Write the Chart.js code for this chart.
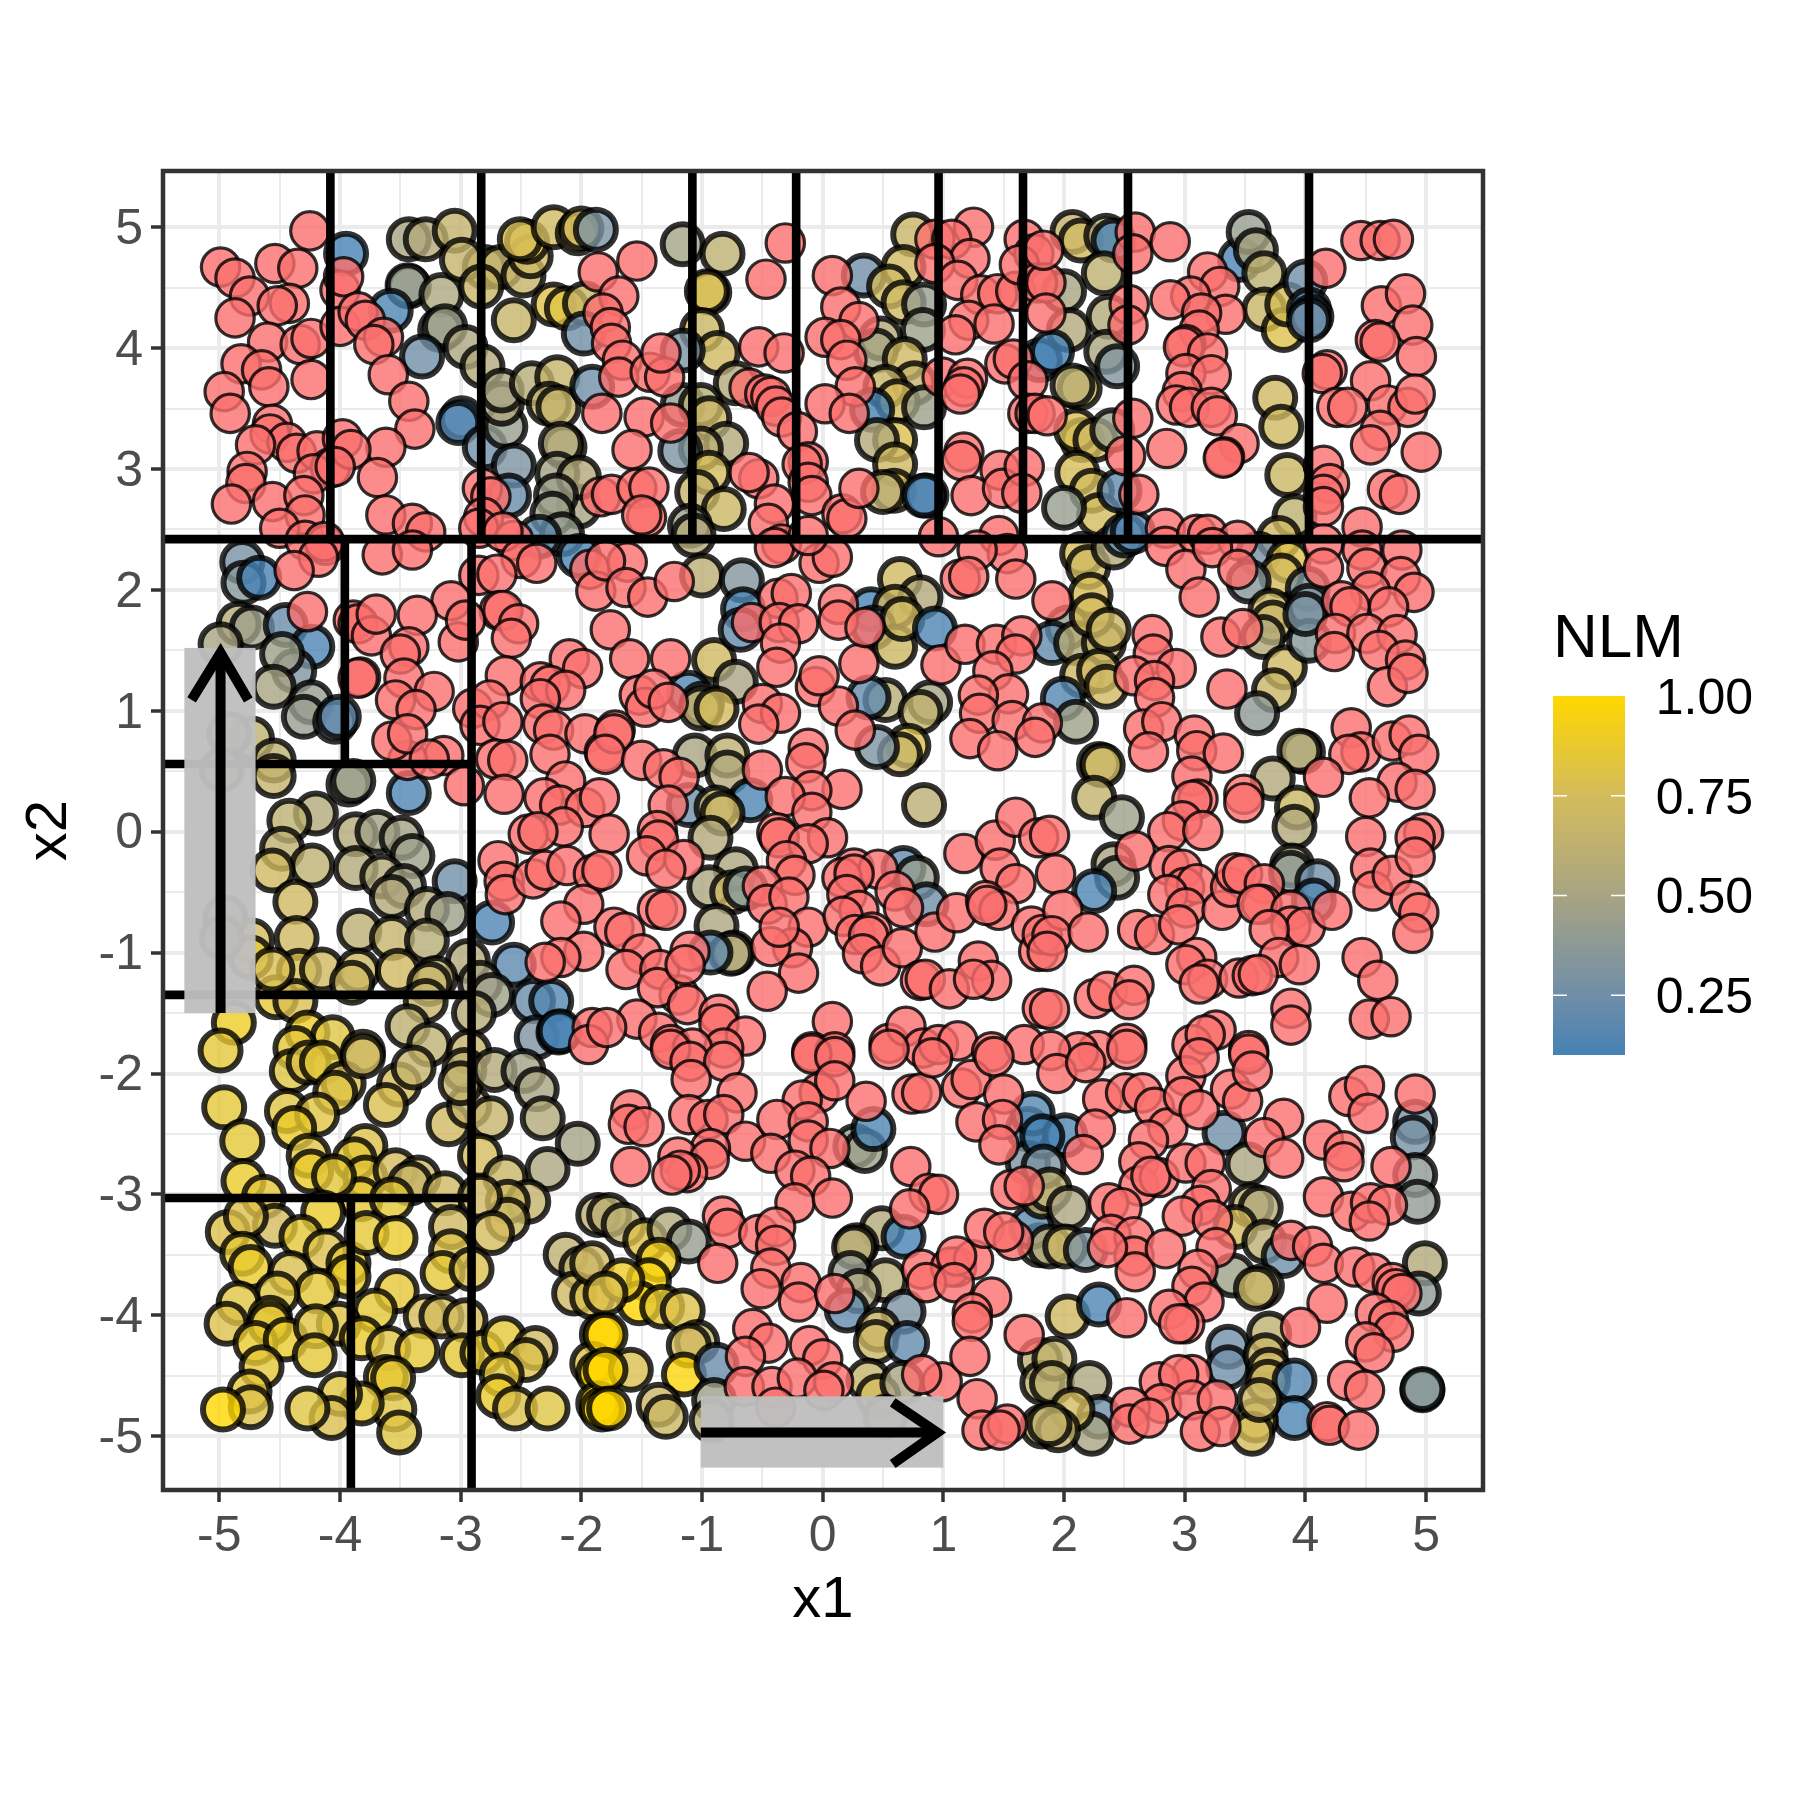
<!DOCTYPE html>
<html>
<head>
<meta charset="utf-8">
<title>NLM</title>
<script src="https://cdn.jsdelivr.net/npm/chart.js@4/dist/chart.umd.min.js"></script>
<style>
  html, body { margin: 0; padding: 0; background: #fff; }
  canvas { display: block; }
</style>
</head>
<body>
<canvas id="chart" width="1800" height="1800"></canvas>
<script>
// points without an NLM value, [x1, x2]
const naPoints = [
[-4.25,4.97],[-4.99,4.67],[-4.87,4.58],[-4.54,4.70],[-4.35,4.66],[-4.75,4.43],[-4.42,4.37],[-4.52,4.35],[-4.87,4.25],[-4.60,4.05],
[-4.33,4.03],[-4.24,4.08],[-4.82,3.87],[-4.65,3.82],[-4.59,3.68],[-4.96,3.64],[-4.24,3.74],[-4.91,3.46],[-4.56,3.37],[-4.58,3.29],
[-4.44,3.22],[-4.70,3.20],[-4.36,3.13],[-4.19,3.15],[-4.08,3.01],[-4.22,2.96],[-4.77,2.98],[-4.78,2.88],[-4.90,2.71],[-4.56,2.73],
[-4.30,2.78],[-4.29,2.62],[-4.50,2.51],[-4.29,2.41],[-4.12,2.37],[-4.13,2.40],[-4.18,2.27],[-4.38,2.16],[-4.00,4.48],[-4.00,4.18],
[-3.97,4.59],[-3.85,4.30],[-3.79,4.23],[-3.64,4.09],[-3.72,4.03],[-3.60,3.78],[-3.43,3.56],[-3.38,3.33],[-3.62,3.18],[-3.98,3.25],
[-3.91,3.16],[-4.04,3.02],[-3.69,2.93],[-3.62,2.62],[-3.40,2.55],[-3.29,2.48],[-3.65,2.29],[-3.40,2.33],[-2.82,2.84],[-2.75,2.77],
[-2.81,2.60],[-2.85,2.51],[-2.56,2.41],[-2.65,2.48],[-2.50,2.26],[-2.37,2.22],[-2.85,2.12],[-2.70,2.13],[-1.86,4.63],[-1.84,2.77],
[-1.93,2.17],[-1.88,1.99],[-2.68,1.83],[-3.08,1.91],
[-1.54,4.72],[-1.69,4.43],[-1.82,4.29],[-1.76,4.17],[-1.75,4.04],[-1.66,3.90],[-1.69,3.76],[-1.43,3.80],[-1.31,3.76],[-1.34,3.96],
[-1.83,3.46],[-1.48,3.43],[-1.26,3.38],[-1.58,3.16],[-1.75,2.79],[-1.54,2.84],[-1.44,2.85],[-1.46,2.60],[-1.50,2.62],[-0.31,4.87],
[-0.47,4.57],[-0.53,4.01],[-0.32,3.96],[-0.61,3.67],[-0.48,3.62],[-0.43,3.60],[-0.39,3.52],[-0.34,3.43],[-0.21,3.31],[-0.53,2.92],
[-0.61,2.97],[-0.40,2.71],[-0.45,2.55],[-0.34,2.38],[-0.40,2.35],[-0.12,3.06],[-0.17,3.04],[-0.12,2.89],[-0.09,2.78],[-0.03,2.22],
[0.08,2.27],[-0.12,2.45],[0.16,2.63],[0.20,2.59],[0.08,4.60],[0.15,4.34],[0.30,4.22],[0.02,4.09],[0.15,4.07],[0.20,3.90],
[0.27,3.68],[0.02,3.54],[0.22,3.46],[0.30,2.84],[0.93,4.90],[1.25,5.00],[1.07,4.90],[1.22,4.74],[0.93,4.70],[1.12,4.56],
[1.31,4.44],[1.45,4.45],[1.60,4.47],[1.21,4.23],[1.42,4.20],[1.10,4.11],[0.99,3.76],[1.20,3.75],[1.17,3.68],[1.14,3.62],
[1.51,3.87],[1.58,3.91],[1.67,4.90],[1.75,4.78],[1.63,4.69],[1.78,4.54],[1.70,3.73],[1.70,3.46],[1.76,3.46],[1.17,3.14],
[1.15,3.07],[1.47,2.99],[1.23,2.78],[1.49,2.84],[1.67,3.02],[1.65,2.80],[1.46,2.45],[0.96,2.44],[1.53,2.30],[1.28,2.33],
[1.14,2.09],[1.21,2.11],[1.60,2.09],[-1.62,2.23],[-1.80,2.24],[-1.63,2.02],[-1.45,1.94],[-1.23,2.07],[-0.37,1.93],[-0.26,1.97],[0.13,1.88],
[2.59,4.96],[2.57,4.78],[2.88,4.88],[3.19,4.63],[3.29,4.51],[3.05,4.43],[2.88,4.40],[3.34,4.28],[3.14,4.29],[2.54,4.36],
[2.53,4.19],[3.12,4.15],[3.01,4.03],[2.99,4.01],[3.19,3.96],[3.01,3.79],[3.22,3.78],[2.98,3.64],[2.93,3.53],[3.04,3.51],
[3.22,3.51],[3.27,3.44],[2.57,3.42],[2.51,3.11],[2.85,3.17],[3.45,3.21],[3.33,3.10],[3.32,3.09],[2.62,2.79],[2.84,2.51],
[2.84,2.36],[3.10,2.46],[3.19,2.46],[3.44,2.41],[3.01,2.17],[3.23,2.35],[3.44,2.17],[3.12,1.94],[4.17,4.66],[4.46,4.89],
[4.62,4.89],[4.73,4.90],[4.63,4.35],[4.83,4.45],[4.89,4.19],[4.58,4.07],[4.62,4.05],[4.92,3.93],[4.18,3.82],[4.14,3.79],
[4.54,3.73],[4.26,3.51],[4.35,3.51],[4.68,3.53],[4.85,3.51],[4.91,3.62],[4.62,3.32],[4.54,3.20],[4.96,3.14],[4.15,3.03],
[4.20,2.88],[4.15,2.79],[4.15,2.69],[4.68,2.83],[4.78,2.79],[4.47,2.52],[4.15,2.38],[4.47,2.33],[4.80,2.33],[4.15,2.18],
[4.51,2.18],[4.79,2.11],[4.54,1.99],[4.90,1.98],[4.30,1.91],[4.37,1.86],[4.69,1.86],[1.90,1.91],[1.86,3.44],[1.85,4.54],[1.85,4.29],[1.83,4.81],
[-4.27,1.82],[-3.89,1.75],[-3.85,1.72],[-3.74,1.62],[-3.70,1.80],[-3.36,1.79],[-3.43,1.53],[-3.50,1.47],[-3.02,1.57],[-2.96,1.75],
[-2.65,1.83],[-2.52,1.72],[-2.58,1.60],[-2.63,1.29],[-2.10,1.43],[-1.99,1.35],[-3.47,1.27],[-3.83,1.28],[-3.85,1.27],[-3.22,1.16],
[-3.54,1.09],[-3.37,1.01],[-2.90,1.02],[-2.76,1.09],[-2.84,0.88],[-2.65,0.91],[-2.34,1.24],[-2.26,1.21],[-2.13,1.17],[-2.34,1.10],
[-2.32,0.89],[-2.23,0.84],[-1.97,0.81],[-2.26,0.64],[-1.81,0.66],[-2.71,0.60],[-2.61,0.59],[-3.14,0.63],[-3.44,0.59],[-3.57,0.75],
[-3.44,0.81],[-3.26,0.60],[-2.97,0.38],[-2.64,0.31],[-2.13,0.42],[-2.31,0.28],[-2.18,0.22],[-1.97,0.20],[-1.85,0.28],[-2.15,0.04],
[-2.44,-0.02],[-2.36,0.00],[-2.69,-0.24],[-2.64,-0.41],[-2.63,-0.52],[-2.40,-0.39],[-2.30,-0.32],[-2.12,-0.28],[-1.90,-0.35],[-1.98,-0.60],
[-2.17,-0.74],[-1.98,-0.99],[-2.17,-1.04],[-2.30,-1.08],[-1.91,-1.62],[-1.94,-1.76],
[-1.76,1.67],[-1.60,1.43],[-1.26,1.43],[-1.52,1.13],[-1.47,1.03],[-1.40,1.18],[-1.28,1.07],[-1.72,0.84],[-1.73,0.81],[-1.80,0.64],
[-1.50,0.59],[-1.32,0.52],[-1.19,0.45],[-1.28,0.22],[-1.37,0.01],[-1.36,-0.07],[-1.46,-0.20],[-1.15,-0.23],[-1.30,-0.31],[-1.77,-0.02],
[-1.83,-0.32],[-1.37,-0.64],[-1.30,-0.65],[-1.73,-0.79],[-1.64,-0.83],[-1.50,-1.01],[-1.63,-1.14],[-1.35,-1.14],[-1.19,-1.35],[-1.37,-1.29],
[-1.10,-0.99],[-1.14,-1.10],[-1.12,-1.43],[-1.54,-1.55],[-1.36,-1.66],[-1.26,-1.76],[-1.79,-1.62],[-0.86,-1.51],[-0.86,-1.59],[-0.64,-1.69],
[-0.82,-1.79],[-1.08,-1.79],[-0.59,1.73],[-0.36,1.73],[-0.20,1.72],[-0.35,1.56],[-0.38,1.36],[-0.50,1.06],[-0.35,0.98],[-0.53,0.89],
[-0.06,1.20],[0.13,1.04],[0.30,1.39],[0.27,0.84],[-0.03,1.29],[0.13,1.75],[0.35,1.69],[0.98,1.38],[1.18,1.55],[1.44,1.55],
[1.65,1.62],[1.60,1.47],[1.41,1.33],[1.54,1.14],[1.29,1.13],[1.30,0.98],[1.57,0.92],[1.22,0.77],[1.45,0.67],[1.82,0.90],[1.76,0.78],
[-0.12,0.69],[-0.14,0.57],[-0.50,0.51],[0.16,0.35],[-0.09,0.34],[-0.31,0.29],[-0.09,0.16],[0.04,-0.05],[-0.38,-0.01],[-0.36,-0.05],
[-0.12,-0.10],[-0.30,-0.24],[-0.23,-0.36],[-0.50,-0.45],[-0.46,-0.60],[-0.28,-0.54],[-0.12,-0.79],[-0.25,-0.96],[-0.43,-0.95],[-0.20,-1.17],
[-0.46,-1.32],[-0.36,-0.79],[0.26,-0.30],[0.46,-0.31],[0.16,-0.38],[0.26,-0.35],[0.20,-0.52],[0.60,-0.49],[0.67,-0.63],[0.30,-0.65],
[0.17,-0.70],[0.27,-0.85],[0.41,-0.83],[0.38,-0.86],[0.33,-1.01],[0.48,-1.11],[0.66,-0.96],[0.81,-1.23],[0.85,-1.22],[1.05,-1.30],
[0.93,-0.83],[1.11,-0.67],[1.17,-0.18],[1.43,-0.07],[1.60,0.12],[1.47,-0.30],[1.60,-0.43],[1.35,-0.57],[1.46,-0.65],[1.36,-0.61],
[1.73,-0.78],[1.79,-0.05],[1.79,-0.99],[1.82,-0.85],[1.29,-1.07],[1.40,-1.23],[1.25,-1.22],[0.08,-1.57],[-0.09,-1.82],[0.10,-1.82],
[0.55,-1.75],[0.69,-1.61],[0.83,-1.79],[0.96,-1.76],[1.12,-1.73],[1.40,-1.82],[1.67,-1.76],[1.82,-1.46],
[2.73,1.63],[2.74,1.47],[2.93,1.35],[2.58,1.29],[2.75,1.25],[2.75,1.11],[2.66,0.85],[2.81,0.91],[2.70,0.66],[3.08,0.80],
[3.10,0.67],[3.32,0.65],[3.06,0.46],[3.11,0.27],[3.06,0.26],[2.98,0.09],[2.86,0.00],[3.15,0.01],[3.30,1.61],[3.48,1.68],
[3.35,1.18],[3.49,0.31],[3.49,0.24],[2.59,-0.16],[1.88,-0.03],[1.93,-0.35],[1.99,-0.65],[1.90,-0.86],[1.86,-0.99],[2.20,-0.83],
[2.61,-0.81],[2.75,-0.85],[2.87,-0.28],[2.98,-0.31],[3.00,-0.46],[3.10,-0.43],[2.86,-0.52],[3.01,-0.63],[2.95,-0.77],[3.10,-1.04],
[3.01,-1.10],[3.19,-1.22],[3.12,-1.26],[3.31,-0.65],[3.38,-0.46],[3.42,-0.34],[3.48,-0.35],[3.66,-0.43],[3.64,-0.60],[3.60,-0.60],
[3.88,-0.65],[3.88,-0.78],[4.00,-0.79],[3.70,-0.81],[4.22,-0.65],[3.78,-1.04],[3.95,-1.10],[3.45,-1.21],[3.56,-1.19],[3.61,-1.18],
[3.88,-1.46],[3.88,-1.60],[4.25,1.64],[4.51,1.64],[4.76,1.63],[4.24,1.49],[4.61,1.50],[4.83,1.42],[4.68,1.20],[4.85,1.31],
[4.38,0.86],[4.46,0.66],[4.36,0.64],[4.72,0.75],[4.86,0.80],[4.94,0.64],[4.76,0.41],[4.91,0.35],[4.53,0.28],[4.50,-0.04],
[4.54,-0.30],[4.56,-0.49],[4.72,-0.36],[4.98,-0.01],[4.91,-0.05],[4.91,-0.21],[4.87,-0.57],[4.94,-0.67],[4.89,-0.84],[4.15,0.45],
[4.47,-1.04],[4.60,-1.23],[4.53,-1.55],[4.71,-1.53],[2.25,-1.38],[2.36,-1.32],[2.58,-1.27],[2.54,-1.39],[1.88,-1.47],[2.52,-1.75],
[2.28,-1.81],[2.12,-1.82],[1.89,-1.81],[3.26,-1.64],[3.06,-1.76],[3.17,-1.68],[3.53,-1.81],
[-1.26,-1.80],[-1.10,-1.90],[-0.82,-1.90],[-1.09,-2.05],[-0.71,-2.16],[-1.59,-2.30],[-1.61,-2.42],[-1.48,-2.44],[-1.59,-2.77],[-1.11,-2.34],
[-0.95,-2.38],[-0.82,-2.34],[-0.64,-2.56],[-0.93,-2.62],[-1.20,-2.69],[-0.94,-2.71],[-1.12,-2.82],[-1.18,-2.80],[-1.25,-2.84],[-0.09,-1.84],
[0.10,-1.86],[-0.03,-2.16],[0.10,-2.06],[-0.17,-2.22],[-0.38,-2.38],[-0.12,-2.40],[-0.43,-2.66],[-0.12,-2.55],[0.06,-2.62],[-0.23,-2.80],
[-0.10,-2.85],[-0.23,-3.07],[0.08,-3.03],[0.36,-2.23],[0.55,-1.80],[0.74,-2.17],[0.82,-2.16],[0.91,-1.87],[1.15,-2.12],[1.23,-2.05],
[1.42,-1.86],[1.27,-2.40],[1.50,-2.17],[1.49,-2.38],[1.46,-2.59],[0.73,-2.77],[0.88,-2.99],[0.96,-3.00],[0.72,-3.12],[1.56,-2.96],
[1.67,-2.93],[-0.83,-3.18],[-0.79,-3.28],[-0.87,-3.57],[-0.53,-3.33],[-0.39,-3.27],[-0.39,-3.42],[-0.43,-3.61],[-0.51,-3.78],[-0.18,-3.73],
[-0.20,-3.89],[0.10,-3.82],[-0.58,-4.11],[-0.45,-4.23],[-0.64,-4.34],[-0.11,-4.25],[0.00,-4.36],[-0.65,-4.59],[-0.42,-4.59],[-0.21,-4.52],
[0.09,-4.55],[0.01,-4.62],[-0.39,-4.76],[0.82,-3.62],[0.99,-4.55],[0.82,-4.49],[1.11,-3.60],[1.06,-3.60],[1.25,-3.54],[1.11,-3.51],
[1.34,-3.28],[1.58,-3.38],[1.50,-3.31],[0.86,-3.73],[1.09,-3.73],[1.40,-3.85],[1.24,-3.98],[1.24,-4.05],[1.22,-4.34],[1.67,-4.16],
[1.28,-4.69],[1.32,-4.95],[1.53,-4.90],[1.47,-4.95],
[1.94,-2.00],[2.18,-1.91],[2.52,-1.80],[2.32,-2.21],[2.51,-2.16],[2.65,-2.16],[2.75,-2.28],[2.26,-2.46],[2.16,-2.67],[2.86,-2.45],
[2.70,-2.55],[2.62,-2.73],[2.62,-2.93],[2.79,-2.86],[2.72,-2.85],[3.01,-2.74],[3.17,-2.74],[3.01,-2.02],[2.99,-2.19],[3.12,-2.30],
[3.12,-1.87],[3.38,-2.13],[3.48,-2.23],[3.53,-1.84],[3.56,-1.98],[3.82,-2.37],[3.66,-2.53],[3.82,-2.70],[3.22,-2.96],[3.13,-3.09],
[2.98,-3.18],[3.23,-3.21],[2.37,-3.07],[2.48,-3.11],[2.39,-3.33],[2.58,-3.35],[2.58,-3.51],[2.59,-3.64],[2.36,-3.44],[2.84,-3.45],
[3.26,-3.44],[3.11,-3.62],[3.06,-3.76],[3.16,-3.89],[2.87,-3.95],[3.00,-4.07],[2.95,-4.07],[2.52,-4.02],[3.88,-3.38],[4.06,-3.43],
[4.15,-3.57],[4.15,-2.55],[4.32,-2.64],[4.32,-2.73],[4.36,-2.19],[4.49,-2.10],[4.52,-2.33],[4.91,-2.17],[4.71,-2.77],[4.15,-3.02],
[4.38,-3.14],[4.54,-3.07],[4.68,-3.09],[4.53,-3.22],[4.41,-3.60],[4.56,-3.65],[4.72,-3.73],[4.75,-3.78],[4.80,-3.82],[4.18,-3.90],
[3.96,-4.10],[4.58,-3.98],[4.69,-4.04],[4.73,-4.14],[4.50,-4.22],[4.57,-4.31],[4.35,-4.54],[4.49,-4.62],[3.06,-4.49],[2.79,-4.55],
[2.95,-4.49],[2.81,-4.73],[3.06,-4.70],[3.27,-4.70],[2.55,-4.76],[2.54,-4.90],[2.70,-4.85],[3.13,-4.96],[3.30,-4.92],[4.18,-4.88],
[4.20,-4.91],[4.44,-4.95]
];

// points with an NLM value, [x1, x2, NLM]
const nlmPoints = [
[-3.95,4.78,0.10],[-3.43,4.90,0.50],[-3.29,4.90,0.55],[-3.05,4.97,0.65],[-3.43,4.51,0.42],[-3.44,4.52,0.42],[-3.16,4.44,0.52],[-3.58,4.31,0.12],[-3.17,4.15,0.42],[-3.13,4.18,0.45],
[-2.96,4.01,0.52],[-3.32,3.93,0.25],[-2.82,3.85,0.55],[-2.99,3.42,0.20],[-3.02,3.38,0.15],[-2.80,3.18,0.25],[-2.63,3.35,0.42],[-2.66,3.54,0.52],[-2.66,3.65,0.50],[-2.41,3.71,0.58],
[-2.20,3.76,0.66],[-2.27,3.54,0.64],[-2.19,3.51,0.66],[-1.91,3.68,0.25],[-2.14,3.18,0.55],[-2.17,3.21,0.56],[-2.56,3.03,0.30],[-2.20,2.96,0.47],[-2.02,2.69,0.50],[-2.02,2.93,0.55],
[-2.21,2.78,0.45],[-2.24,2.63,0.45],[-2.16,2.46,0.42],[-2.60,2.78,0.22],[-2.35,2.44,0.20],[-2.02,2.28,0.12],[-2.80,4.67,0.68],[-2.99,4.73,0.66],[-2.67,4.67,0.65],[-2.83,4.51,0.68],
[-2.56,4.23,0.67],[-2.48,4.60,0.67],[-2.42,4.76,0.72],[-2.45,4.88,0.82],[-2.51,4.90,0.76],[-2.23,5.00,0.73],[-2.03,4.95,0.70],[-2.00,4.99,0.76],[-1.88,4.98,0.30],[-2.23,4.36,0.80],
[-2.12,4.33,0.82],[-1.97,4.37,0.70],[-1.98,4.12,0.25],[-4.81,2.23,0.28],[-4.80,2.06,0.35],[-4.67,2.10,0.10],
[-1.16,4.86,0.48],[-0.83,4.78,0.62],[-0.94,4.46,0.78],[-0.96,4.47,0.76],[-1.00,4.15,0.70],[-0.87,3.96,0.72],[-0.72,3.71,0.55],[-1.16,3.98,0.30],[-1.16,3.53,0.42],[-1.01,3.53,0.58],
[-0.94,3.42,0.70],[-0.80,3.21,0.55],[-1.01,3.17,0.62],[-1.18,3.15,0.30],[-0.94,2.97,0.75],[-1.04,2.81,0.66],[-0.82,2.67,0.70],[-1.10,2.53,0.45],[-1.07,2.45,0.55],[-1.00,2.12,0.60],
[-0.67,2.08,0.33],[-0.66,1.84,0.12],[0.34,4.60,0.25],[0.75,4.94,0.68],[0.67,4.67,0.72],[0.55,4.51,0.72],[0.67,4.38,0.72],[0.84,4.36,0.42],[0.48,4.08,0.55],[0.44,3.98,0.50],
[0.83,4.15,0.45],[0.68,3.91,0.72],[0.76,3.71,0.66],[0.52,3.68,0.68],[0.62,3.56,0.75],[0.41,3.49,0.10],[0.84,3.51,0.45],[0.60,3.24,0.78],[0.45,3.24,0.55],[0.60,3.04,0.72],
[0.59,2.82,0.75],[0.50,2.81,0.60],[0.86,2.78,0.20],[0.84,2.78,0.12],[0.64,2.09,0.72],[0.81,1.94,0.55],[0.40,1.84,0.10],[0.60,1.86,0.70],[1.80,3.90,0.12],
[2.07,4.96,0.66],[2.14,4.89,0.72],[2.35,4.93,0.55],[2.41,4.89,0.12],[2.33,4.62,0.62],[2.00,4.47,0.50],[2.04,4.15,0.55],[1.90,3.97,0.10],[2.37,4.26,0.55],[2.35,3.97,0.52],
[2.44,3.85,0.32],[2.13,3.67,0.75],[2.07,3.69,0.60],[2.15,3.24,0.80],[2.10,3.32,0.76],[2.26,3.24,0.72],[2.40,3.32,0.45],[2.11,2.97,0.76],[2.23,2.82,0.74],[2.29,2.62,0.74],
[2.00,2.68,0.42],[2.46,2.82,0.20],[2.15,2.30,0.76],[2.20,2.19,0.72],[2.41,2.35,0.55],[2.50,2.45,0.20],[2.22,1.96,0.76],[2.57,2.48,0.15],[3.46,4.73,0.12],[3.53,4.96,0.42],
[3.59,4.81,0.50],[3.66,4.62,0.62],[3.66,4.32,0.68],[3.82,4.15,0.80],[3.85,4.36,0.76],[4.00,4.55,0.25],[4.03,4.32,0.15],[4.05,4.26,0.20],[4.03,4.23,0.25],[3.75,3.59,0.72],
[3.80,3.35,0.72],[3.85,2.95,0.70],[3.91,2.61,0.62],[3.78,2.43,0.72],[3.61,2.30,0.28],[3.86,2.24,0.80],[3.80,2.12,0.75],[3.53,2.07,0.35],[4.02,2.01,0.32],[4.03,1.87,0.32],[3.71,1.83,0.70],
[-4.84,1.72,0.55],[-4.73,1.69,0.45],[-4.45,1.71,0.22],[-4.23,1.53,0.12],[-4.38,1.33,0.32],[-4.48,1.47,0.45],[-4.55,1.20,0.50],[-4.24,1.07,0.42],[-4.30,0.95,0.42],[-4.04,0.91,0.28],
[-4.01,0.95,0.20],[-4.73,0.77,0.62],[-4.55,0.59,0.62],[-4.55,0.46,0.66],[-3.93,0.39,0.45],[-3.89,0.42,0.45],[-3.43,0.32,0.12],[-4.20,0.15,0.55],[-4.42,0.09,0.62],[-4.48,-0.14,0.62],
[-4.23,-0.28,0.62],[-4.56,-0.32,0.72],[-3.87,-0.02,0.55],[-3.69,0.00,0.47],[-3.49,-0.05,0.47],[-3.40,-0.20,0.45],[-3.87,-0.30,0.55],[-3.65,-0.37,0.55],[-3.47,-0.45,0.47],[-3.57,-0.54,0.55],
[-3.05,-0.41,0.25],[-4.37,-0.58,0.72],[-2.74,-0.75,0.12],[-3.84,-0.82,0.60],[-3.57,-0.88,0.66],[-4.36,-0.88,0.72],[-3.28,-0.64,0.55],[-3.11,-0.68,0.45],[-3.28,-0.90,0.58],[-2.94,-1.07,0.55],
[-2.56,-1.10,0.18],[-2.84,-1.25,0.50],[-2.40,-1.40,0.22],[-2.25,-1.40,0.15],[-2.74,-1.35,0.45],[-2.89,-1.50,0.58],[-2.37,-1.70,0.30],[-2.19,-1.66,0.15],[-2.18,-1.65,0.10],[-4.34,-1.15,0.78],
[-4.15,-1.14,0.72],[-3.85,-1.15,0.70],[-3.52,-1.15,0.72],[-3.21,-1.21,0.62],[-3.90,-1.25,0.72],[-4.53,-1.37,0.85],[-4.37,-1.40,0.78],[-4.73,-0.90,0.75],[-4.74,-1.04,0.85],[-4.56,-1.14,0.78],
[-3.26,-1.26,0.68],[-3.29,-1.40,0.66],[-3.44,-1.61,0.62],[-4.88,-1.58,0.90],[-4.99,-1.81,0.85],[-4.27,-1.66,0.90],[-4.06,-1.70,0.82],[-4.37,-1.79,0.85],[-3.81,-1.82,0.72],[-3.26,-1.76,0.62],
[-2.93,-1.82,0.65],[-4.92,0.81,0.50],[-4.98,0.51,0.45],[-4.95,-0.71,0.45],[-4.98,-0.88,0.50],[-4.99,1.55,0.50],
[-0.90,1.42,0.72],[-0.72,1.24,0.50],[-1.11,1.15,0.15],[-1.00,1.06,0.52],[-1.01,1.02,0.60],[-0.88,1.02,0.75],[-0.68,1.67,0.20],[0.42,1.69,0.20],[0.60,1.53,0.70],[0.66,1.76,0.72],
[0.93,1.68,0.12],[0.52,1.09,0.58],[0.38,1.11,0.20],[0.89,1.07,0.50],[0.81,0.99,0.64],[0.71,0.71,0.78],[0.64,0.64,0.68],[0.45,0.70,0.30],[-1.06,0.63,0.50],[-0.79,0.63,0.62],
[-0.79,0.49,0.55],[-0.60,0.26,0.12],[-1.11,0.22,0.25],[-0.88,0.20,0.62],[-0.83,0.15,0.70],[-0.93,-0.05,0.55],[-0.72,-0.31,0.52],[-0.94,-0.46,0.52],[-0.75,-0.50,0.70],[-0.64,-0.47,0.35],
[-0.88,-0.78,0.52],[-0.74,-1.00,0.62],[-0.76,-1.01,0.55],[-0.93,-1.00,0.20],[0.84,0.22,0.60],[0.67,-0.30,0.20],[0.78,-0.38,0.42],[0.86,-0.60,0.25],
[2.03,1.69,0.42],[1.90,1.56,0.20],[2.10,1.56,0.58],[2.33,1.56,0.65],[2.15,1.29,0.70],[2.29,1.33,0.72],[2.35,1.20,0.72],[2.23,1.79,0.75],[2.37,1.67,0.70],[1.99,1.10,0.15],
[2.10,0.91,0.45],[2.29,0.56,0.68],[2.32,0.55,0.70],[2.25,0.28,0.65],[2.48,0.12,0.45],[2.41,-0.27,0.50],[2.44,-0.38,0.45],[2.25,-0.49,0.12],[3.73,1.73,0.68],[3.65,1.61,0.55],
[3.83,1.36,0.72],[3.74,1.17,0.68],[3.60,0.98,0.38],[4.03,1.58,0.35],[4.00,1.80,0.30],[3.98,0.66,0.60],[3.95,0.67,0.55],[3.73,0.44,0.55],[3.93,0.20,0.70],[3.91,0.04,0.55],
[3.89,-0.28,0.52],[3.88,-0.34,0.38],[4.10,-0.41,0.25],[4.07,-0.57,0.15],
[-4.96,-2.28,0.85],[-4.81,-2.56,0.85],[-4.80,-2.89,0.88],[-4.63,-3.02,0.85],[-4.40,-1.98,0.82],[-4.26,-1.91,0.80],[-4.15,-1.91,0.85],[-3.97,-2.08,0.78],[-4.04,-2.16,0.82],[-3.81,-1.86,0.72],
[-3.51,-2.09,0.75],[-3.62,-2.26,0.78],[-3.39,-1.95,0.66],[-4.44,-2.31,0.82],[-4.19,-2.34,0.82],[-4.38,-2.45,0.88],[-4.26,-2.68,0.82],[-4.24,-2.81,0.88],[-3.79,-2.60,0.80],[-3.88,-2.71,0.85],
[-3.79,-2.86,0.85],[-3.83,-3.04,0.85],[-4.05,-2.85,0.85],[-3.54,-2.80,0.75],[-3.35,-2.86,0.70],[-3.42,-2.91,0.68],[-3.13,-2.99,0.72],[-3.57,-3.04,0.85],[-3.10,-2.42,0.72],[-2.93,-2.27,0.66],
[-2.97,-1.97,0.62],[-3.00,-2.08,0.65],[-2.75,-2.37,0.66],[-2.84,-2.68,0.75],[-2.72,-1.97,0.55],[-2.48,-1.98,0.47],[-2.37,-2.13,0.50],[-2.32,-2.37,0.55],[-2.03,-2.58,0.48],[-2.28,-2.79,0.52],
[-2.63,-2.86,0.68],[-2.44,-3.06,0.65],[-2.61,-3.06,0.72],[-2.61,-3.21,0.70],[-2.84,-3.02,0.72],[-2.74,-3.32,0.75],[-2.13,-3.50,0.62],[-2.00,-3.61,0.62],[-2.06,-3.82,0.72],[-1.91,-3.85,0.78],
[-1.86,-3.17,0.60],[-1.91,-3.57,0.72],[-1.83,-4.16,0.95],[-1.91,-4.40,0.80],[-1.86,-4.48,1.00],[-1.86,-4.73,0.98],[-1.83,-4.78,1.00],[-4.93,-3.31,0.80],[-4.54,-3.26,0.75],[-4.78,-3.18,0.80],
[-4.81,-3.49,0.85],[-4.74,-3.60,0.88],[-4.14,-3.15,0.88],[-4.32,-3.35,0.85],[-4.12,-3.47,0.80],[-3.93,-3.57,0.85],[-3.93,-3.68,0.88],[-3.78,-3.32,0.85],[-3.54,-3.36,0.88],[-3.08,-3.27,0.72],
[-3.08,-3.47,0.80],[-3.15,-3.65,0.85],[-2.91,-3.62,0.78],[-4.41,-3.65,0.78],[-4.19,-3.80,0.85],[-3.53,-3.80,0.85],[-3.71,-3.96,0.85],[-4.52,-3.82,0.82],[-4.84,-3.90,0.82],[-4.94,-4.07,0.80],
[-4.58,-4.02,0.85],[-4.58,-4.07,0.85],[-4.70,-4.23,0.88],[-4.45,-4.20,0.88],[-4.65,-4.43,0.85],[-4.01,-4.07,0.82],[-4.20,-4.09,0.82],[-4.21,-4.33,0.85],[-3.82,-4.19,0.88],[-3.60,-4.27,0.82],
[-3.29,-4.01,0.75],[-3.16,-4.01,0.75],[-2.96,-4.04,0.75],[-3.36,-4.29,0.85],[-2.99,-4.33,0.85],[-2.82,-4.31,0.85],[-2.64,-4.19,0.85],[-2.38,-4.27,0.72],[-2.46,-4.37,0.80],[-2.66,-4.49,0.85],
[-2.69,-4.67,0.88],[-2.55,-4.77,0.80],[-2.28,-4.77,0.82],[-3.62,-4.51,0.90],[-3.56,-4.52,0.85],[-3.55,-4.78,0.82],[-3.51,-4.97,0.82],[-3.82,-4.73,0.85],[-4.00,-4.65,0.82],[-4.07,-4.85,0.78],
[-4.27,-4.77,0.82],[-4.75,-4.63,0.85],[-4.74,-4.76,0.80],[-4.97,-4.78,1.00],
[-1.77,-3.17,0.60],[-1.65,-3.25,0.62],[-1.47,-3.38,0.80],[-1.27,-3.29,0.55],[-1.11,-3.39,0.42],[-1.36,-3.54,0.92],[-1.44,-3.71,0.97],[-1.52,-3.90,1.00],[-1.33,-3.93,0.85],[-1.16,-3.96,0.80],
[-1.66,-3.71,0.90],[-1.80,-3.82,0.80],[-1.80,-4.16,1.00],[-1.04,-4.22,0.65],[-1.11,-4.25,0.75],[-1.15,-4.49,0.97],[-1.59,-4.45,0.78],[-1.80,-4.45,1.00],[-1.77,-4.77,1.00],[-1.36,-4.74,0.68],
[-1.30,-4.84,0.70],[-0.88,-4.41,0.22],[-0.90,-4.70,0.45],[-0.92,-4.87,0.60],[0.27,-2.60,0.42],[0.35,-2.64,0.45],[0.42,-2.46,0.12],[0.49,-3.28,0.55],[0.67,-3.35,0.10],[0.28,-3.42,0.55],
[0.26,-3.44,0.60],[0.23,-3.65,0.42],[0.52,-3.71,0.58],[0.30,-3.80,0.52],[0.20,-3.96,0.20],[0.67,-3.97,0.30],[0.46,-4.12,0.68],[0.44,-4.22,0.70],[0.70,-4.23,0.20],[0.38,-4.54,0.66],
[0.46,-4.67,0.75],[0.66,-4.56,0.50],[0.52,-4.84,0.50],[1.80,-3.42,0.45],[1.73,-3.27,0.18],[1.80,-4.37,0.60],[1.82,-4.56,0.62],[1.82,-4.92,0.62],[1.70,-2.46,0.12],[1.74,-2.33,0.15],
[1.70,-2.74,0.30],[1.82,-3.02,0.60],
[2.01,-2.51,0.15],[1.82,-2.52,0.10],[1.83,-2.77,0.30],[1.88,-2.96,0.60],[2.04,-3.11,0.52],[1.88,-3.43,0.55],[2.01,-3.43,0.70],[2.18,-3.46,0.32],[2.03,-4.01,0.72],[2.29,-3.91,0.12],
[1.92,-4.36,0.65],[1.90,-4.56,0.62],[2.21,-4.56,0.52],[2.29,-4.84,0.25],[2.23,-4.98,0.50],[2.07,-4.78,0.75],[1.95,-4.95,0.65],[1.88,-4.90,0.65],[3.33,-2.49,0.25],[3.52,-2.75,0.52],
[3.55,-3.09,0.62],[3.63,-3.11,0.55],[3.42,-3.27,0.75],[3.66,-3.39,0.60],[3.82,-3.51,0.25],[3.40,-3.67,0.45],[3.64,-3.76,0.62],[3.59,-3.78,0.68],[3.70,-4.15,0.62],[3.36,-4.26,0.25],
[3.36,-4.43,0.25],[3.67,-4.33,0.68],[3.70,-4.45,0.70],[3.69,-4.55,0.72],[3.91,-4.54,0.15],[3.91,-4.85,0.12],[3.59,-4.87,0.80],[3.56,-4.98,0.75],[3.62,-4.70,0.70],[4.91,-2.40,0.28],
[4.89,-2.53,0.28],[4.91,-2.84,0.38],[4.93,-3.06,0.40],[4.99,-3.57,0.55],[4.94,-3.82,0.38],[4.97,-4.62,0.38],[4.97,-4.61,0.35]
];

// tree partition lines, each [x1 from, x2 from, x1 to, x2 to]
const splitLines = [
  [-5.47, 2.42, 5.47, 2.42],
  [-4.08, 2.42, -4.08, 5.47], [-2.83, 2.42, -2.83, 5.47], [-1.08, 2.42, -1.08, 5.47], [-0.22, 2.42, -0.22, 5.47],
  [0.96, 2.42, 0.96, 5.47], [1.66, 2.42, 1.66, 5.47], [2.53, 2.42, 2.53, 5.47], [4.03, 2.42, 4.03, 5.47],
  [-2.91, -5.45, -2.91, 2.42], [-5.47, 0.56, -2.91, 0.56], [-3.96, 0.56, -3.96, 2.42],
  [-5.47, -1.35, -2.91, -1.35], [-5.47, -3.03, -2.91, -3.03], [-3.91, -5.45, -3.91, -3.03]
];

// grey boxes and arrows: [x1 min, x1 max, x2 min, x2 max]
const boxes = [[-5.29, -4.70, -1.50, 1.52], [-1.01, 1.00, -5.26, -4.67]];
const arrowLines = [
  [[-4.99, -1.50], [-4.99, 1.48]],
  [[-5.23, 1.09], [-4.99, 1.48], [-4.76, 1.09]],
  [[-1.01, -4.97], [0.95, -4.97]],
  [[0.58, -4.72], [0.95, -4.97], [0.58, -5.23]]
];

const legendTicks = [1.00, 0.75, 0.50, 0.25];
const nlmStops = [0.10, 0.25, 0.50, 0.75, 1.00];
const nlmColors = [[70, 130, 180], [112, 142, 168], [168, 164, 131], [212, 188, 92], [255, 215, 0]];

function nlmColor(v, alpha) {
    let i = 0;
    while (i < nlmStops.length - 2 && v > nlmStops[i + 1]) i++;
    const t = Math.min(1, Math.max(0, (v - nlmStops[i]) / (nlmStops[i + 1] - nlmStops[i])));
    const c = nlmColors[i].map((a, k) => Math.round(a + (nlmColors[i + 1][k] - a) * t));
    return `rgba(${c[0]},${c[1]},${c[2]},${alpha})`;
}

// boxes and arrows go over the points and the split lines, then the panel border and colour bar
const overlayPlugin = {
    id: 'overlay',
    afterDatasetsDraw(chart) {
        const { ctx, scales: { x, y }, chartArea: area } = chart;
        ctx.save();
        ctx.beginPath();
        ctx.rect(area.left, area.top, area.right - area.left, area.bottom - area.top);
        ctx.clip();
        ctx.fillStyle = 'rgba(190,190,190,0.96)';
        boxes.forEach(([a, b, c, d]) => {
            const left = x.getPixelForValue(a);
            const top = y.getPixelForValue(d);
            ctx.fillRect(left, top, x.getPixelForValue(b) - left, y.getPixelForValue(c) - top);
        });
        ctx.strokeStyle = '#000';
        ctx.lineWidth = 10;
        ctx.lineJoin = 'miter';
        ctx.lineCap = 'butt';
        arrowLines.forEach(line => {
            ctx.beginPath();
            line.forEach(([a, b], i) => {
                if (i === 0) ctx.moveTo(x.getPixelForValue(a), y.getPixelForValue(b));
                else ctx.lineTo(x.getPixelForValue(a), y.getPixelForValue(b));
            });
            ctx.stroke();
        });
        ctx.restore();

        ctx.save();
        ctx.strokeStyle = '#333333';
        ctx.lineWidth = 4.5;
        ctx.strokeRect(area.left, area.top, area.right - area.left, area.bottom - area.top);
        ctx.restore();

        // colour bar
        const barLeft = 1553, barWidth = 72, barTop = 696, barBottom = 1055;
        const barY = v => barBottom - (v - nlmStops[0]) / (1 - nlmStops[0]) * (barBottom - barTop);
        const grad = ctx.createLinearGradient(0, barBottom, 0, barTop);
        nlmStops.forEach(v => grad.addColorStop((v - nlmStops[0]) / (1 - nlmStops[0]), nlmColor(v, 1)));
        ctx.save();
        ctx.fillStyle = grad;
        ctx.fillRect(barLeft, barTop, barWidth, barBottom - barTop);
        ctx.strokeStyle = '#fff';
        ctx.lineWidth = 1.5;
        ctx.fillStyle = '#000';
        ctx.font = '50px "Liberation Sans"';
        ctx.textAlign = 'right';
        ctx.textBaseline = 'alphabetic';
        legendTicks.forEach(v => {
            const py = barY(v);
            if (v < 1) {
                ctx.beginPath();
                ctx.moveTo(barLeft, py);
                ctx.lineTo(barLeft + 14, py);
                ctx.moveTo(barLeft + barWidth - 14, py);
                ctx.lineTo(barLeft + barWidth, py);
                ctx.stroke();
            }
            ctx.fillText(v.toFixed(2), 1753, py + 18);
        });
        ctx.font = '62px "Liberation Sans"';
        ctx.textAlign = 'left';
        ctx.fillText('NLM', 1553, 657);
        ctx.restore();
    }
};

const tickFont = { family: '"Liberation Sans"', size: 50 };
const titleFont = { family: '"Liberation Sans"', size: 58 };
const isWhole = v => Math.abs(v - Math.round(v)) < 0.001;

function axisOptions(min, max, title) {
    return {
        type: 'linear',
        min: min,
        max: max,
        title: { display: true, text: title, color: '#000', font: titleFont, padding: 0 },
        border: { display: false },
        grid: {
            color: '#EBEBEB',
            lineWidth: c => isWhole(c.tick.value) ? 4 : 2,
            tickLength: 12,
            tickWidth: 3.5,
            tickColor: c => isWhole(c.tick.value) ? '#333333' : 'rgba(0,0,0,0)'
        },
        ticks: {
            stepSize: 0.5,
            includeBounds: false,
            autoSkip: false,
            maxRotation: 0,
            color: '#4D4D4D',
            font: tickFont,
            padding: 5,
            callback: v => isWhole(v) ? String(Math.round(v)) : ''
        }
    };
}

const scaleX = axisOptions(-5.467, 5.472, 'x1');
scaleX.afterFit = s => { s.height = 146; };
const scaleY = axisOptions(-5.445, 5.465, 'x2');
scaleY.ticks.labelOffset = 3;
scaleY.ticks.padding = 8;
scaleY.afterFit = s => { s.width = 148; };

const datasets = [
    {
        type: 'line',
        label: 'splits',
        data: splitLines.flatMap(([a, b, c, d]) => [{ x: a, y: b }, { x: c, y: d }, { x: null, y: null }]),
        borderColor: '#000',
        borderWidth: 8.6,
        pointRadius: 0,
        spanGaps: false,
        tension: 0,
        order: 0
    },
    {
        type: 'scatter',
        label: 'NA',
        data: naPoints.map(([a, b]) => ({ x: a, y: b })),
        backgroundColor: 'rgba(251,111,110,0.8)',
        borderColor: 'rgba(0,0,0,0.8)',
        borderWidth: 3.2,
        pointRadius: 19.2,
        order: 1
    },
    {
        type: 'scatter',
        label: 'NLM',
        data: nlmPoints.map(([a, b]) => ({ x: a, y: b })),
        backgroundColor: nlmPoints.map(p => nlmColor(p[2], 0.8)),
        borderColor: 'rgba(0,0,0,0.8)',
        borderWidth: 6,
        pointRadius: 20,
        order: 2
    }
];

new Chart(document.getElementById('chart').getContext('2d'), {
    data: { datasets: datasets },
    options: {
        responsive: false,
        animation: false,
        devicePixelRatio: 1,
        layout: { padding: { left: 15, right: 317, top: 171, bottom: 164 } },
        plugins: { legend: { display: false }, tooltip: { enabled: false } },
        scales: { x: scaleX, y: scaleY }
    },
    plugins: [overlayPlugin]
});
</script>
</body>
</html>
